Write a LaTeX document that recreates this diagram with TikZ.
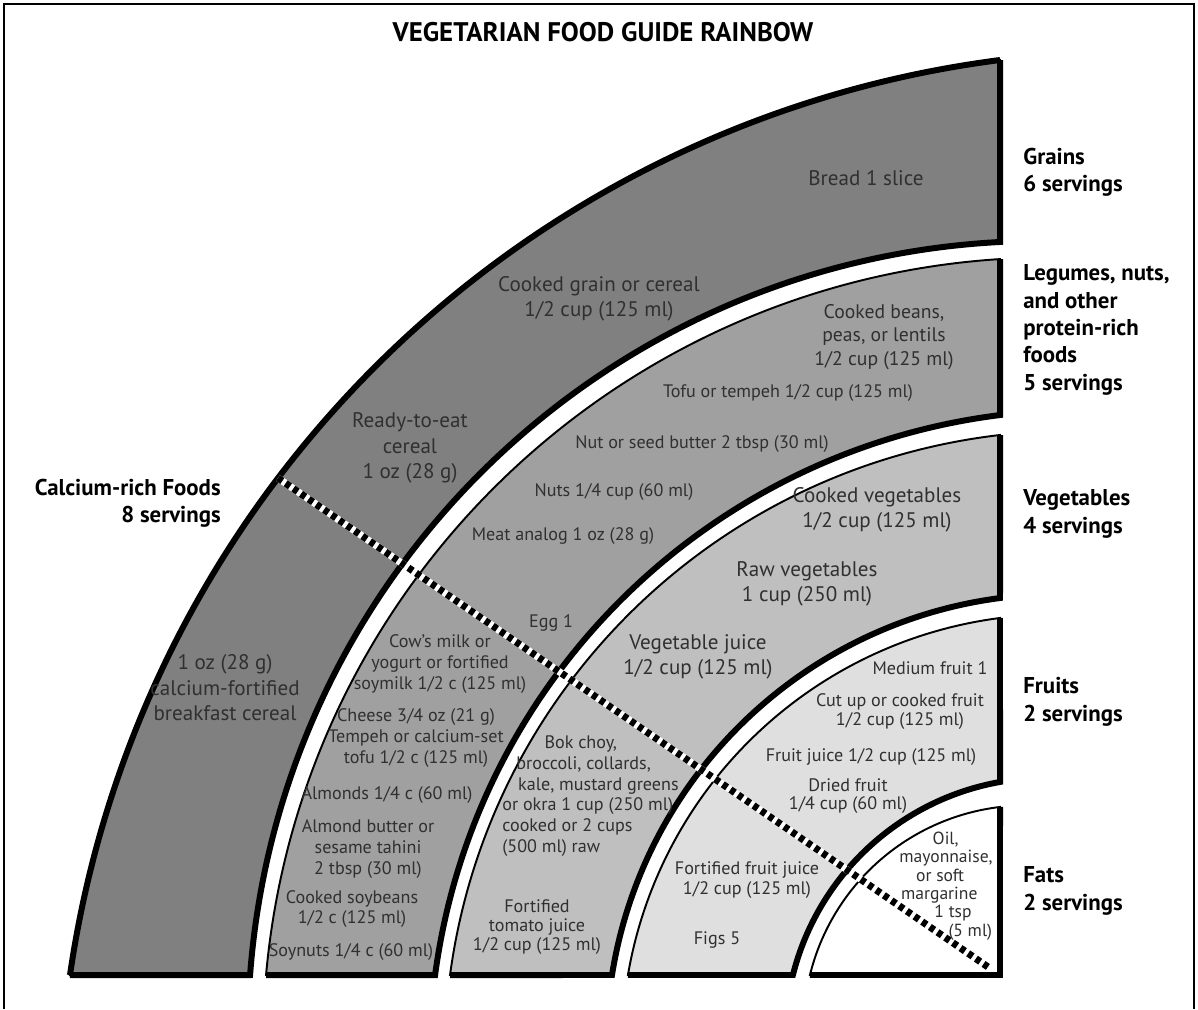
\documentclass[tikz,border=0pt]{standalone}
\usepackage{fontspec}
\setmainfont{PT Sans}
\usetikzlibrary{calc}
\definecolor{grainfill}{HTML}{808080}
\definecolor{legumefill}{HTML}{A0A0A0}
\definecolor{vegfill}{HTML}{BFBFBF}
\definecolor{fruitfill}{HTML}{DFDFDF}
\definecolor{inktext}{HTML}{303030}

\begin{document}
\begin{tikzpicture}[
  x=0.02cm, y=0.02cm,
  item/.style={text=inktext, align=center, inner sep=0pt,
               font=\fontsize{10.3}{11.8}\selectfont},
  miditem/.style={item, font=\fontsize{11.2}{13.4}\selectfont},
  bigitem/.style={item, font=\fontsize{12}{14.5}\selectfont},
  group/.style={align=left, anchor=west, inner sep=0pt,
                font=\bfseries\fontsize{13}{15.6}\selectfont},
  thinline/.style={line width=1.1pt},
  thickline/.style={line width=3.4pt},
  calline/.style={line width=4pt, dash pattern=on 3pt off 2.3pt},
]
\useasboundingbox (0,0) rectangle (1198,1009);
\fill[white] (0,0) rectangle (1198,1009);
\draw[line width=1pt] (4,0) -- (4,1005) -- (1194,1005) -- (1194,0);

\node[font=\bfseries\fontsize{15.3}{18}\selectfont] (title) at (603,977)
  {VEGETARIAN FOOD GUIDE RAINBOW};

% every band is cut at x=1000 (right) and y=34 (bottom);
% outer arc centre/radius, then inner arc centre/radius
\foreach \ocx/\ocy/\ro/\icx/\icy/\ri/\bandcol in {
    1137.3/-120.7/1078.5/1041.3/-25.4/793.5/grainfill,
    1050.6/-36.1/787.7/1080.8/-52.5/651.5/legumefill,
    1072.3/-49.7/627.9/1058.6/-37.5/452.3/vegfill,
    1055.5/-39.2/433.8/1045.8/-29.7/260.8/fruitfill}{
  \pgfmathsetmacro\aro{acos((1000-\ocx)/\ro)}
  \pgfmathsetmacro\abo{180-asin((34-\ocy)/\ro)}
  \pgfmathsetmacro\ari{acos((1000-\icx)/\ri)}
  \pgfmathsetmacro\abi{180-asin((34-\icy)/\ri)}
  \filldraw[fill=\bandcol, thinline] ($(\ocx,\ocy)+(\aro:\ro)$)
    arc[start angle=\aro, end angle=\abo, radius=\ro]
    -- ($(\icx,\icy)+(\abi:\ri)$)
    arc[start angle=\abi, end angle=\ari, radius=\ri] -- cycle;
  \draw[thickline] ($(\ocx,\ocy)+(\aro:\ro)$) -- ($(\icx,\icy)+(\ari:\ri)$)
    arc[start angle=\ari, end angle=\abi, radius=\ri]
    -- ($(\ocx,\ocy)+(\abo:\ro)$);
}
% outer edge of grains
\pgfmathsetmacro\gro{acos(-137.3/1078.5)}
\pgfmathsetmacro\gbo{180-asin(154.7/1078.5)}
\draw[thickline] ($(1137.3,-120.7)+(\gro:1078.5)$)
  arc[start angle=\gro, end angle=\gbo, radius=1078.5];

% fats, the last slice
\pgfmathsetmacro\fro{acos(-26.3/222.8)}
\pgfmathsetmacro\fbo{180-asin(53.2/222.8)}
\coordinate (fatcorner) at (1000,34);
\filldraw[fill=white, thinline] ($(1026.3,-19.2)+(\fro:222.8)$)
  arc[start angle=\fro, end angle=\fbo, radius=222.8] -- (fatcorner) -- cycle;
\draw[thickline] ($(1026.3,-19.2)+(\fro:222.8)$) -- (fatcorner)
  -- ($(1026.3,-19.2)+(\fbo:222.8)$);

% calcium divider
\coordinate (calstart) at (278,531);
\coordinate (calend) at (988,42);
\draw[white, line width=4pt] (calstart) -- (calend);
\draw[calline] (calstart) -- (calend);

% grains
\node[bigitem] (bread) at (866,831) {Bread 1 slice};
\node[bigitem] (cookedgrain) at (599,710) {Cooked grain or cereal\\1/2 cup (125 ml)};
\node[bigitem] (readycereal) at (410,561) {Ready-to-eat\\cereal\\1 oz (28 g)};
\node[bigitem] (calcereal) at (225,321) {1 oz (28 g)\\calcium-fortified\\breakfast cereal};

% legumes
\node[miditem] (beans) at (884,672) {Cooked beans,\\peas, or lentils\\1/2 cup (125 ml)};
\node[item] (tofu) at (788,616) {Tofu or tempeh 1/2 cup (125 ml)};
\node[item] (nutbutter) at (702,565) {Nut or seed butter 2 tbsp (30 ml)};
\node[item] (nuts) at (614,517) {Nuts 1/4 cup (60 ml)};
\node[item] (meat) at (563,473) {Meat analog 1 oz (28 g)};
\node[item] (egg) at (551,386) {Egg 1};
\node[item] (cowmilk) at (440,345) {Cow's milk or\\yogurt or fortified\\soymilk 1/2 c (125 ml)};
\node[item] (cheese) at (416,271) {Cheese 3/4 oz (21 g)\\Tempeh or calcium-set\\tofu 1/2 c (125 ml)};
\node[item] (almonds) at (387,214) {Almonds 1/4 c (60 ml)};
\node[item] (almondbutter) at (368,160) {Almond butter or\\sesame tahini\\2 tbsp (30 ml)};
\node[item] (soybeans) at (352,100) {Cooked soybeans\\1/2 c (125 ml)};
\node[item] (soynuts) at (351,57) {Soynuts 1/4 c (60 ml)};

% vegetables
\node[bigitem] (cookedveg) at (877,499) {Cooked vegetables\\1/2 cup (125 ml)};
\node[bigitem] (rawveg) at (807,425) {Raw vegetables\\1 cup (250 ml)};
\node[bigitem] (vegjuice) at (698,352) {Vegetable juice\\1/2 cup (125 ml)};
\node[item, align=left, anchor=west] (bokchoy) at (502,213)
  {\hspace*{24pt}Bok choy,\\\hspace*{8pt}broccoli, collards,\\\hspace*{9pt}kale, mustard greens\\or okra 1 cup (250 ml)\\cooked or 2 cups\\(500 ml) raw};
\node[item, font=\fontsize{10.3}{10.6}\selectfont] (tomato) at (537,82) {Fortified\\tomato juice\\1/2 cup (125 ml)};

% fruits
\node[item] (medfruit) at (930,341) {Medium fruit 1};
\node[item, font=\fontsize{10.3}{10.8}\selectfont] (cutfruit) at (900,297) {Cut up or cooked fruit\\1/2 cup (125 ml)};
\node[item] (fruitjuice) at (871,252) {Fruit juice 1/2 cup (125 ml)};
\node[item, font=\fontsize{10.3}{10.4}\selectfont] (dried) at (848,213) {Dried fruit\\1/4 cup (60 ml)};
\node[item] (fortjuice) at (747,129) {Fortified fruit juice\\1/2 cup (125 ml)};
\node[item] (figs) at (717,69) {Figs 5};

% fats
\node[item, align=left, anchor=west, font=\fontsize{10}{10.4}\selectfont] (oil) at (899,123)
  {\hspace*{19pt}Oil,\\mayonnaise,\\\hspace*{9.6pt}or soft\\\hspace*{1pt}margarine\\\hspace*{20pt}1 tsp\\\hspace*{28pt}(5 ml)};

% group labels
\node[group] (grainslbl) at (1023,837) {Grains\\6 servings};
\node[group] (legumeslbl) at (1023,679) {Legumes, nuts,\\and other\\protein-rich\\foods\\5 servings};
\node[group] (veglbl) at (1023,495) {Vegetables\\4 servings};
\node[group] (fruitlbl) at (1023,307) {Fruits\\2 servings};
\node[group] (fatlbl) at (1023,118) {Fats\\2 servings};
\node[group, anchor=east, align=right] (calciumlbl) at (221,506) {Calcium-rich Foods\\8 servings};

\end{tikzpicture}
\end{document}
